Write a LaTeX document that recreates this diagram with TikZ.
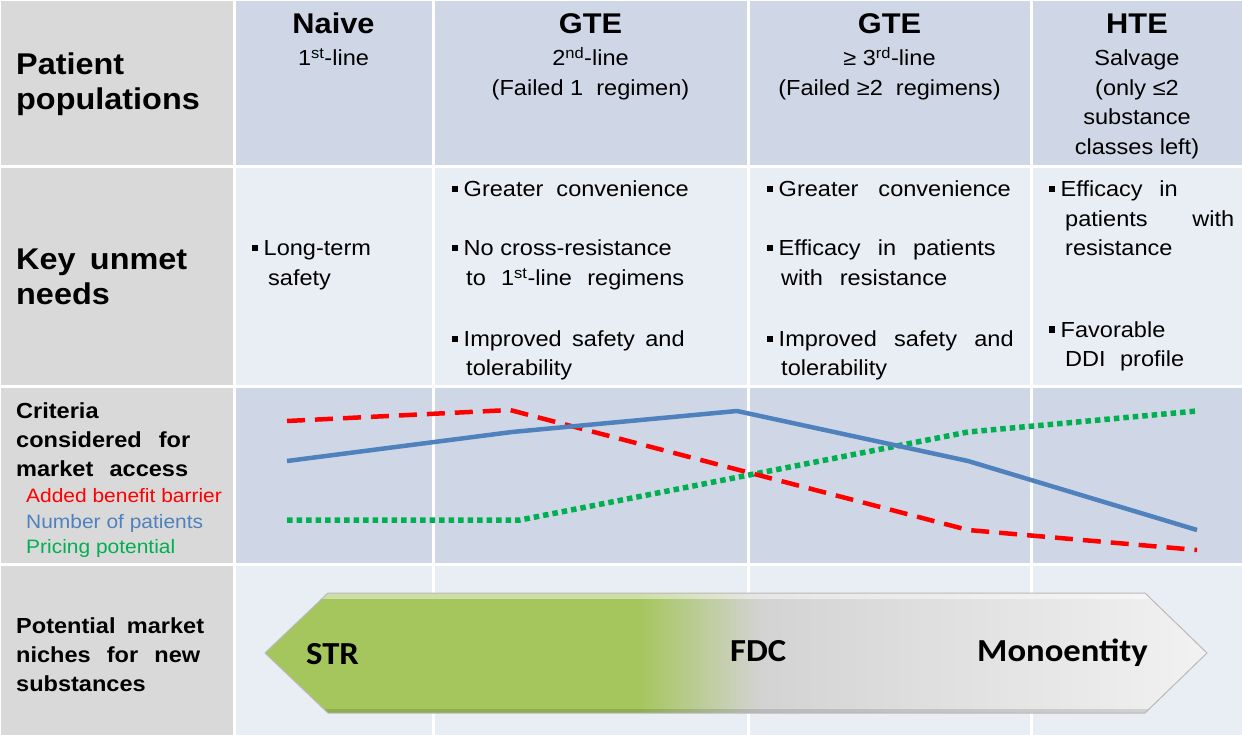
\documentclass[tikz,border=0pt]{standalone}
\usepackage{fontspec}
\setmainfont{Liberation Sans}[FakeStretch=1.08]
\newfontfamily\calib{Carlito}[FakeStretch=1.08]
\definecolor{lab}{HTML}{D9D9D9}
\definecolor{dk}{HTML}{CFD7E6}
\definecolor{lt}{HTML}{E9EDF4}
\definecolor{cred}{HTML}{FF0000}
\definecolor{cblue}{HTML}{4F81BD}
\definecolor{cgreen}{HTML}{00B050}
\definecolor{agreen}{HTML}{A5C65D}
\definecolor{agreenlt}{HTML}{C9E09A}
\definecolor{agray}{HTML}{D3D3D3}
\definecolor{alight}{HTML}{F2F2F2}
\newcommand\bul{\rule[4.5pt]{5.5pt}{6pt}\hspace{6pt}}
\tikzset{
  txt/.style={anchor=base west, inner sep=0pt, font=\fontsize{21.8}{26}\selectfont},
  hd/.style={anchor=base, inner sep=0pt, font=\bfseries\fontsize{28.5}{34}\selectfont},
  sub/.style={anchor=base, inner sep=0pt, font=\fontsize{21.8}{26}\selectfont},
  big/.style={anchor=base west, inner sep=0pt, font=\bfseries\fontsize{30}{36}\selectfont},
  lbl/.style={anchor=base west, inner sep=0pt, font=\bfseries\fontsize{21.8}{26}\selectfont},
  leg/.style={anchor=base west, inner sep=0pt, font=\fontsize{19.4}{23}\selectfont},
  arrtxt/.style={anchor=base west, inner sep=0pt, font=\calib\bfseries\fontsize{32.1}{38}\selectfont},
  curve/.style={line width=4.5pt, line join=round},
}
\begin{document}
\begin{tikzpicture}[x=1pt,y=-1pt]
\useasboundingbox (0,0) rectangle (1242,735);
\fill[white] (0,0) rectangle (1242,735);
% label column
\fill[lab] (1,1) rectangle (233,165);
\fill[lab] (1,168) rectangle (233,385);
\fill[lab] (1,388) rectangle (233,563);
\fill[lab] (1,566) rectangle (233,735);
% cells
\foreach \a/\b in {236/432,435/747,750/1030,1033/1242}{
  \fill[dk] (\a,1) rectangle (\b,165);
  \fill[lt] (\a,168) rectangle (\b,385);
  \fill[dk] (\a,388) rectangle (\b,563);
  \fill[lt] (\a,566) rectangle (\b,735);
}
% row labels
\node[big] (pp1) at (16,75) {Patient};
\node[big] (pp2) at (16,110) {populations};
\node[big] (ku1) at (16,270) {\makebox[171pt][s]{Key unmet}};
\node[big] (ku2) at (16,305) {needs};
\node[lbl] (cr1) at (16,418) {Criteria};
\node[lbl] (cr2) at (16,447) {\makebox[174pt][s]{considered for}};
\node[lbl] (cr3) at (16,476) {\makebox[172pt][s]{market access}};
\node[leg, text=cred] (lg1) at (26,502) {Added benefit barrier};
\node[leg, text=cblue] (lg2) at (26,528) {Number of patients};
\node[leg, text=cgreen] (lg3) at (26,553) {Pricing potential};
\node[lbl] (pm1) at (16,633) {\makebox[188pt][s]{Potential market}};
\node[lbl] (pm2) at (16,662) {\makebox[184pt][s]{niches for new}};
\node[lbl] (pm3) at (16,691) {substances};
% header
\node[hd] (h1) at (333.5,34) {Naive};
\node[sub] (h1a) at (333.5,66) {1\textsuperscript{st}-line};
\node[hd] (h2) at (590.5,34) {GTE};
\node[sub] (h2a) at (590.5,66) {2\textsuperscript{nd}-line};
\node[sub] (h2b) at (590.5,96) {(Failed 1\ \ regimen)};
\node[hd] (h3) at (889.5,34) {GTE};
\node[sub] (h3a) at (889.5,66) {≥ 3\textsuperscript{rd}-line};
\node[sub] (h3b) at (889.5,96) {(Failed ≥2\ \ regimens)};
\node[hd] (h4) at (1137,34) {HTE};
\node[sub] (h4a) at (1137,66) {Salvage};
\node[sub] (h4b) at (1137,96) {(only ≤2};
\node[sub] (h4c) at (1137,125) {substance};
\node[sub] (h4d) at (1137,155) {classes left)};
% unmet needs
\node[txt] (n11) at (252,256) {\bul Long-term};
\node[txt] (n12) at (268,286) {safety};
\node[txt] (n21) at (452,197) {\bul\makebox[225pt][s]{Greater convenience}};
\node[txt] (n22) at (452,256) {\bul No cross-resistance};
\node[txt] (n23) at (466,286) {\makebox[218pt][s]{to 1\textsuperscript{st}-line regimens}};
\node[txt] (n24) at (452,346) {\bul\makebox[221pt][s]{Improved safety and}};
\node[txt] (n25) at (466,375) {tolerability};
\node[txt] (n31) at (767,197) {\bul\makebox[232pt][s]{Greater convenience}};
\node[txt] (n32) at (767,256) {\bul\makebox[217pt][s]{Efficacy in patients}};
\node[txt] (n33) at (781,286) {\makebox[166pt][s]{with resistance}};
\node[txt] (n34) at (767,346) {\bul\makebox[235pt][s]{Improved safety and}};
\node[txt] (n35) at (781,375) {tolerability};
\node[txt] (n41) at (1049,197) {\bul\makebox[117pt][s]{Efficacy in}};
\node[txt] (n42) at (1065,227) {\makebox[169pt][s]{patients with}};
\node[txt] (n43) at (1065,256) {resistance};
\node[txt] (n44) at (1049,337) {\bul Favorable};
\node[txt] (n45) at (1065,366) {\makebox[119pt][s]{DDI profile}};
% criteria curves
\draw[curve, cgreen, line width=5.5pt, dash pattern=on 5.5pt off 4pt] (287,520) -- (520,520) -- (968,432) -- (1197,411);
\draw[curve, cred, dash pattern=on 18pt off 10pt] (287,421) -- (510,410) -- (968,530) -- (1197,550);
\draw[curve, cblue] (287,461) -- (512,432) -- (737,411) -- (968,461) -- (1197,530);
% arrow
\begin{scope}
\clip (265,653) -- (328,593) -- (1145,593) -- (1207,653) -- (1145,713) -- (328,713) -- cycle;
\fill[agreen] (260,590) rectangle (640,716);
\shade[left color=agreen, right color=agray] (639,590) rectangle (761,716);
\shade[left color=agray, right color=alight] (760,590) rectangle (1210,716);
\shade[top color=white, bottom color=white, opacity=0.45] (260,593) rectangle (1210,598);
\fill[black, opacity=0.12] (260,709) rectangle (1210,713);
\end{scope}
\draw[gray!55, line width=1pt, line join=round] (265,653) -- (328,593) -- (1145,593) -- (1207,653) -- (1145,713) -- (328,713) -- cycle;
\node[arrtxt] (a1) at (306,664) {STR};
\node[arrtxt] (a2) at (730,661) {FDC};
\node[arrtxt] (a3) at (977,661) {Monoentity};
\end{tikzpicture}
\end{document}
